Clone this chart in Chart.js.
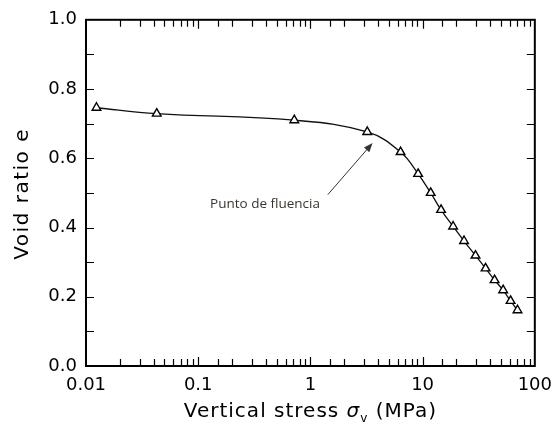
<!DOCTYPE html>
<html>
<head>
<meta charset="utf-8">
<script src="https://cdn.jsdelivr.net/npm/chart.js@4/dist/chart.umd.min.js"></script>
<style>
  body { margin: 0; background: #fff; }
  canvas { display: block; }
</style>
</head>
<body>
<canvas id="grafico" width="552" height="432"></canvas>
<script>
// datos
const stress = [0.0124, 0.0427, 0.718, 3.21, 6.36, 9.12, 11.8, 14.6, 18.7, 23.4, 29.6, 36.4, 43.8, 52.2, 60.8, 70.1];
const voidRatio = [0.746, 0.729, 0.710, 0.676, 0.618, 0.555, 0.500, 0.451, 0.403, 0.361, 0.319, 0.282, 0.248, 0.219, 0.188, 0.161];
const yTicks = [0, 0.2, 0.4, 0.6, 0.8, 1.0];
const xDecades = [0.01, 0.1, 1, 10, 100];

// flecha y texto de la anotacion (coordenadas de datos)
const arrowFrom = [1.43, 0.495];
const arrowTo = [3.58, 0.644];
const labelAt = [0.394, 0.467];
const labelText = "Punto de fluencia";

function isDecade(v) {
    const l = Math.log10(v);
    return Math.abs(l - Math.round(l)) < 1e-9;
}

const marcoPlugin = {
    id: "marco",
    afterDraw(chart) {
        const ctx = chart.ctx;
        const a = chart.chartArea;
        const x = chart.scales.x;
        const y = chart.scales.y;
        ctx.save();
        ctx.strokeStyle = "#000";
        ctx.lineWidth = 1.2;
        ctx.beginPath();
        // ticks hacia dentro, eje x (abajo y arriba)
        x.ticks.forEach(t => {
            if (t.value <= xDecades[0] || t.value >= xDecades[xDecades.length - 1]) return;
            const px = Math.round(x.getPixelForValue(t.value)) + 0.5;
            const len = isDecade(t.value) ? 9 : 7;
            ctx.moveTo(px, a.bottom);
            ctx.lineTo(px, a.bottom - len);
            ctx.moveTo(px, a.top);
            ctx.lineTo(px, a.top + len);
        });
        // ticks eje y cada 0.1 (izquierda y derecha)
        for (let i = 1; i < 10; i++) {
            const py = Math.round(y.getPixelForValue(i / 10)) + 0.5;
            ctx.moveTo(a.left, py);
            ctx.lineTo(a.left + 8, py);
            ctx.moveTo(a.right, py);
            ctx.lineTo(a.right - 8, py);
        }
        ctx.stroke();
        ctx.lineWidth = 2;
        ctx.strokeRect(a.left, a.top, a.right - a.left, a.bottom - a.top);

        // flecha
        const x0 = x.getPixelForValue(arrowFrom[0]), y0 = y.getPixelForValue(arrowFrom[1]);
        const x1 = x.getPixelForValue(arrowTo[0]), y1 = y.getPixelForValue(arrowTo[1]);
        const ang = Math.atan2(y1 - y0, x1 - x0);
        ctx.strokeStyle = "#333";
        ctx.fillStyle = "#333";
        ctx.lineWidth = 1;
        ctx.beginPath();
        ctx.moveTo(x0, y0);
        ctx.lineTo(x1 - 6 * Math.cos(ang), y1 - 6 * Math.sin(ang));
        ctx.stroke();
        ctx.beginPath();
        ctx.moveTo(x1, y1);
        ctx.lineTo(x1 - 9 * Math.cos(ang) + 3.5 * Math.sin(ang), y1 - 9 * Math.sin(ang) - 3.5 * Math.cos(ang));
        ctx.lineTo(x1 - 9 * Math.cos(ang) - 3.5 * Math.sin(ang), y1 - 9 * Math.sin(ang) + 3.5 * Math.cos(ang));
        ctx.closePath();
        ctx.fill();

        // texto de la anotacion
        ctx.font = '13.5px "Open Sans"';
        ctx.fillStyle = "#3a3530";
        ctx.textAlign = "center";
        ctx.textBaseline = "middle";
        ctx.fillText(labelText, x.getPixelForValue(labelAt[0]), y.getPixelForValue(labelAt[1]));

        // titulo eje y
        ctx.fillStyle = "#000";
        ctx.letterSpacing = "1.5px";
        ctx.font = '20px "DejaVu Sans"';
        ctx.save();
        ctx.translate(23, (a.top + a.bottom) / 2 + 1);
        ctx.rotate(-Math.PI / 2);
        ctx.textAlign = "center";
        ctx.textBaseline = "middle";
        ctx.fillText("Void ratio e", 0, 0);
        ctx.restore();

        // titulo eje x con sigma cursiva y subindice
        ctx.letterSpacing = "1px";
        const partes = [
            { t: "Vertical stress ", f: '20px "DejaVu Sans"', dy: 0 },
            { t: "\u03C3", f: 'italic 20px "DejaVu Sans"', dy: 0 },
            { t: "v", f: '12px "DejaVu Sans"', dy: 5 },
            { t: " (MPa)", f: '20px "DejaVu Sans"', dy: 0 }
        ];
        let total = 0;
        partes.forEach(p => { ctx.font = p.f; p.w = ctx.measureText(p.t).width; total += p.w; });
        let cx = (a.left + a.right) / 2 - total / 2;
        ctx.textAlign = "left";
        ctx.textBaseline = "alphabetic";
        partes.forEach(p => {
            ctx.font = p.f;
            ctx.fillText(p.t, cx, 417 + p.dy);
            cx += p.w;
        });
        ctx.restore();
    }
};

const ctx = document.getElementById("grafico").getContext("2d");
const grafico = new Chart(ctx, {
    type: "line",
    data: {
        datasets: [{
            label: "Void ratio",
            data: stress.map((s, i) => ({ x: s, y: voidRatio[i] })),
            borderColor: "#111",
            borderWidth: 1.3,
            tension: 0.4,
            pointStyle: "triangle",
            pointRadius: 5,
            pointBorderWidth: 1.4,
            pointBackgroundColor: "#fff",
            pointBorderColor: "#000"
        }]
    },
    options: {
        responsive: false,
        animation: false,
        layout: { padding: { top: 14, right: 17, left: 0, bottom: 0 } },
        plugins: { legend: { display: false }, tooltip: { enabled: false } },
        scales: {
            x: {
                type: "logarithmic",
                min: 0.01,
                max: 100,
                grid: { drawOnChartArea: false, drawTicks: true, tickLength: 9, tickColor: "transparent" },
                border: { display: false },
                ticks: {
                    autoSkip: false,
                    maxRotation: 0,
                    padding: 0,
                    color: "#000",
                    font: { family: "DejaVu Sans", size: 18 },
                    callback: v => (isDecade(v) && xDecades.some(d => Math.abs(d - v) / d < 1e-6)) ? String(Number(v.toPrecision(3))) : ""
                },
                afterFit: s => { s.height = 66; }
            },
            y: {
                min: 0,
                max: 1,
                afterBuildTicks: s => { s.ticks = yTicks.map(v => ({ value: v })); },
                grid: { display: false, drawTicks: false },
                border: { display: false },
                ticks: {
                    padding: 9,
                    color: "#000",
                    font: { family: "DejaVu Sans", size: 18 },
                    callback: v => v.toFixed(1)
                },
                afterFit: s => { s.width = 86; }
            }
        }
    },
    plugins: [marcoPlugin]
});
</script>
</body>
</html>
